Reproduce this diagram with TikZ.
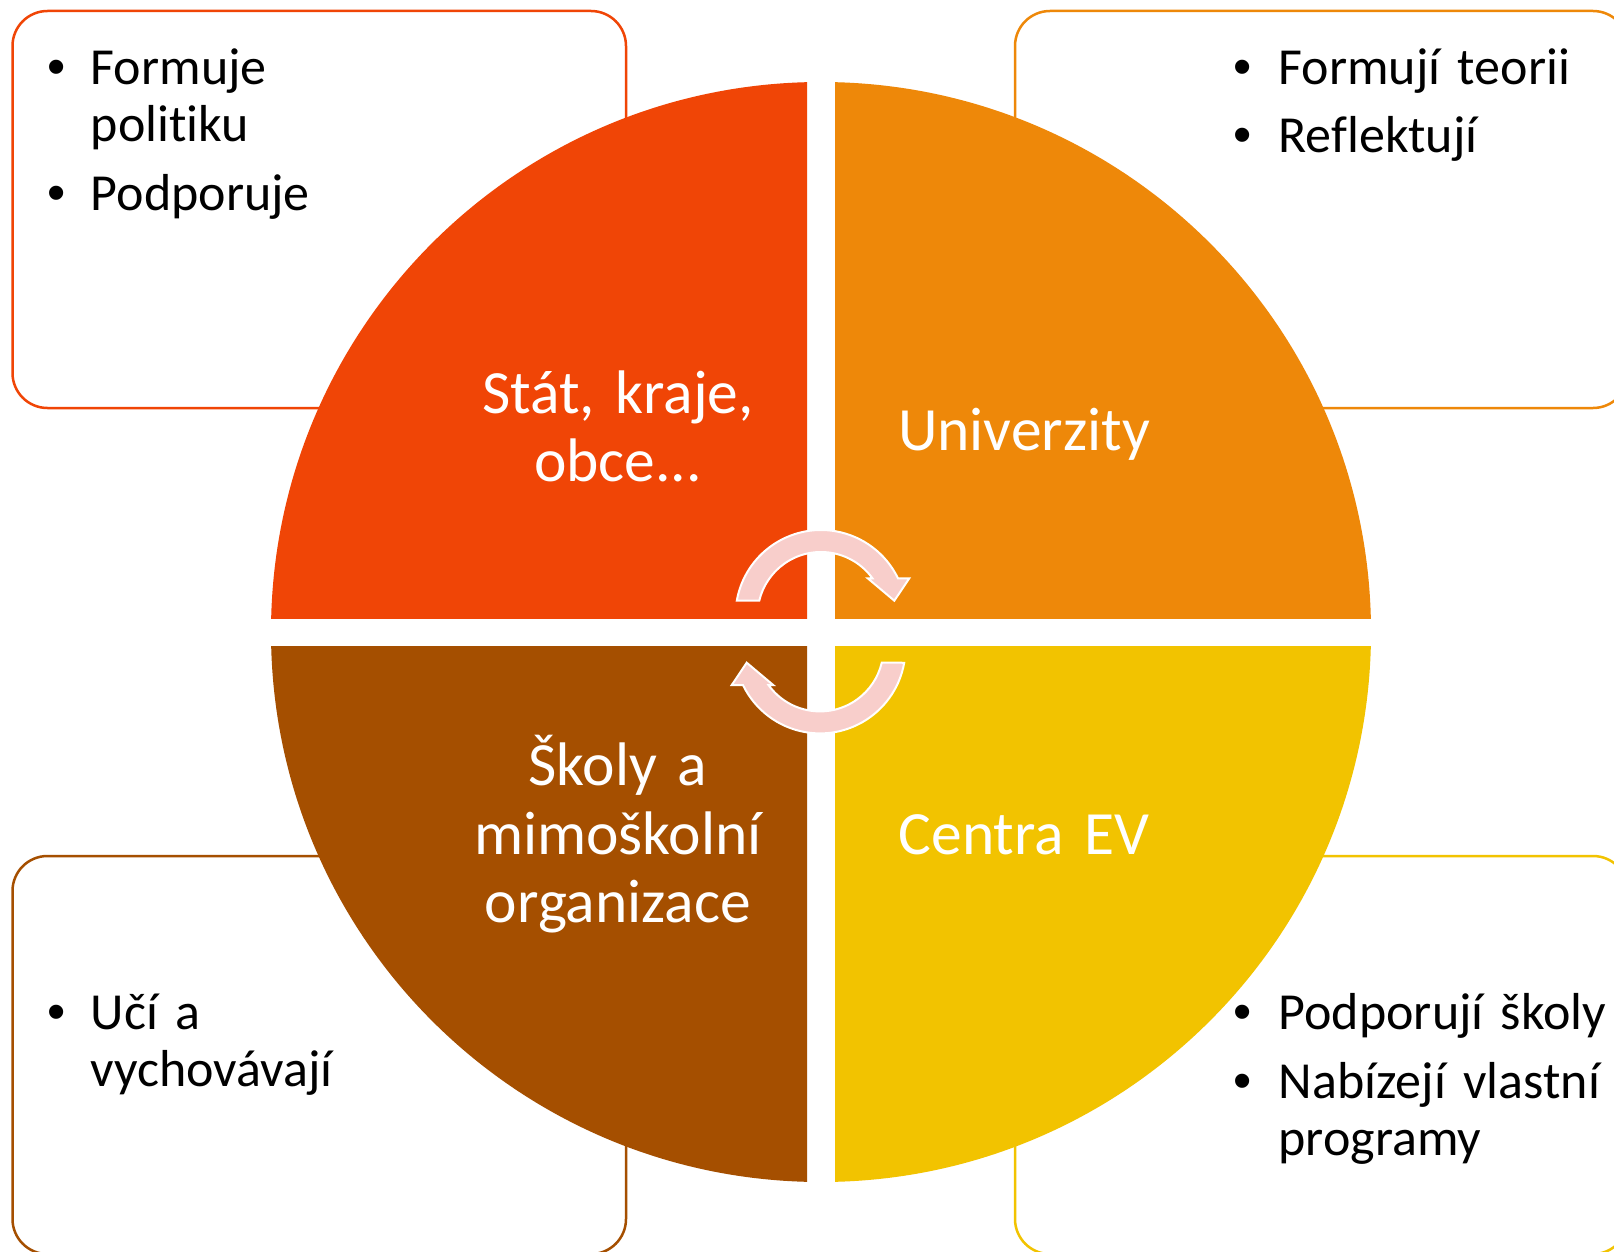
\documentclass[tikz,border=0pt]{standalone}
\usepackage{fontspec}
\setmainfont{Carlito}[Ligatures=NoCommon, WordSpace=0.85]
\newfontfamily\bulletfont{Liberation Sans}
\definecolor{cTL}{RGB}{240,69,6}
\definecolor{cTR}{RGB}{238,136,9}
\definecolor{cBL}{RGB}{165,79,0}
\definecolor{cBR}{RGB}{242,195,0}
\definecolor{arrowfill}{RGB}{248,206,203}
\tikzset{
  infobox/.style={line width=2.5pt, rounded corners=35pt, fill=white},
  quadlabel/.style={text=white, font=\fontsize{61.5}{68.7}\selectfont, text width=520pt, align=center, inner sep=0pt, anchor=base},
  itemtext/.style={text=black, font=\fontsize{52}{57.6}\selectfont, text width=520pt, align=left, inner sep=0pt, anchor=base west},
  bulletmark/.style={text=black, font=\bulletfont\fontsize{52}{57.6}\selectfont, inner sep=0pt, anchor=base},
  cyclearrow/.style={fill=arrowfill, draw=white, line width=2pt, line join=miter},
}
\begin{document}
\begin{tikzpicture}[x=1pt,y=-1pt]
\useasboundingbox (0,0) rectangle (1614,1252);
\clip (0,0) rectangle (1614,1252);
\fill[white] (0,0) rectangle (1614,1252);

% side boxes
\draw[infobox, draw=cTL] (12.5,11) rectangle (626,408);
\draw[infobox, draw=cTR] (1015,11) rectangle (1628,408);
\draw[infobox, draw=cBL] (12.5,856) rectangle (626,1254);
\draw[infobox, draw=cBR] (1015,856) rectangle (1628,1254);

% circle quadrants
\begin{scope}
  \clip (0,0) rectangle (807,618);
  \fill[cTL] (821,632) circle[radius=550];
\end{scope}
\begin{scope}
  \clip (835,0) rectangle (1614,618);
  \fill[cTR] (821,632) circle[radius=550];
\end{scope}
\begin{scope}
  \clip (0,646) rectangle (807,1252);
  \fill[cBL] (821,632) circle[radius=550];
\end{scope}
\begin{scope}
  \clip (835,646) rectangle (1614,1252);
  \fill[cBR] (821,632) circle[radius=550];
\end{scope}

% cycle arrows
\draw[cyclearrow, shift={(821,615.5)}]
  (190:85.5) arc[start angle=190, end angle=334.2, radius=85.5]
  -- (88.3,-37.2) -- (73.3,-14.8) -- (46.7,-37.2)
  -- (324.1:63.5) arc[start angle=324.1, end angle=193.5, radius=63.5] -- cycle;
\draw[cyclearrow, shift={(820.5,631.7)}, rotate=180, shift={(0.5,-16.2)}]
  (190:85.5) arc[start angle=190, end angle=334.2, radius=85.5]
  -- (88.3,-37.2) -- (73.3,-14.8) -- (46.7,-37.2)
  -- (324.1:63.5) arc[start angle=324.1, end angle=193.5, radius=63.5] -- cycle;

% quadrant labels
\node[quadlabel] (stat) at (618,413) {Stát, kraje,\\obce...};
\node[quadlabel] (univ) at (1024,450) {Univerzity};
\node[quadlabel] (skoly) at (618,785.5) {Školy a\\mimoškolní\\organizace};
\node[quadlabel] (centra) at (1024,854.3) {Centra EV};

% top-left box items
\node[bulletmark] (b1) at (56.6,84.4) {•};
\node[itemtext] (t1) at (90.6,84.4) {Formuje\\politiku};
\node[bulletmark] (b2) at (56.6,211) {•};
\node[itemtext] (t2) at (90.6,211) {Podporuje};

% top-right box items
\node[bulletmark] (b3) at (1242.5,84.4) {•};
\node[itemtext] (t3) at (1278.4,84.4) {Formují teorii};
\node[bulletmark] (b4) at (1242.5,152.3) {•};
\node[itemtext] (t4) at (1278.4,152.3) {Reflektují};

% bottom-left box items
\node[bulletmark] (b5) at (56.6,1029.3) {•};
\node[itemtext] (t5) at (90.6,1029.3) {Učí a\\vychovávají};

% bottom-right box items
\node[bulletmark] (b6) at (1242.5,1029.3) {•};
\node[itemtext] (t6) at (1278.4,1029.3) {Podporují školy};
\node[bulletmark] (b7) at (1242.5,1098) {•};
\node[itemtext] (t7) at (1278.4,1098) {Nabízejí vlastní\\programy};
\end{tikzpicture}
\end{document}
